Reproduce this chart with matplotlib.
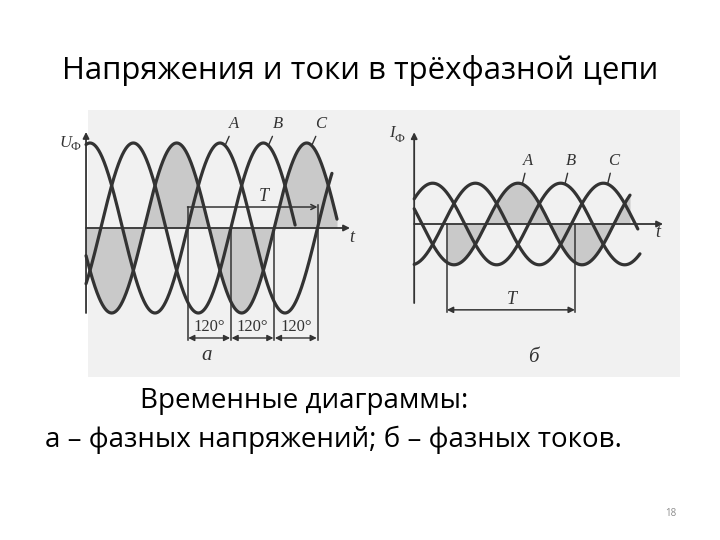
import numpy as np
import matplotlib
matplotlib.use("Agg")
from matplotlib import pyplot as plt
from matplotlib.patches import Rectangle

# slide text
title = "Напряжения и токи в трёхфазной цепи"
caption1 = "Временные диаграммы:"
caption2 = "а – фазных напряжений; б – фазных токов."
page_no = "18"

# three phases, angle in degrees (A crosses zero rising at 0)
phases = ["A", "B", "C"]
shift_deg = [0, 120, 240]

# panel a: phase voltages
u_amp = 1.0
u_start = -281
u_end = [400, 298, 414]
u_axis_end = 450
sector_edges = [0, 120, 240, 360]
sector_labels = ["120°", "120°", "120°"]

# panel b: phase currents
i_amp = 0.48
i_start = -202
i_end = [405, 433, 427]
i_axis_end = 498
T_b = [-110, 250]

W, H = 720, 540
fig = plt.figure(figsize=(7.2, 5.4), dpi=100)
fig.patch.set_facecolor("white")

ink = "#333333"
shade = "#c9c9c9"
serif = "Liberation Serif"
sans = "Open Sans"


def ax_at(px0, py0, px1, py1):
    ax = fig.add_axes([px0 / W, 1 - py1 / H, (px1 - px0) / W, (py1 - py0) / H])
    ax.set_axis_off()
    ax.patch.set_alpha(0)
    return ax


def arrow(ax, p0, p1, lw=1.3, style="-|>"):
    ax.annotate("", xy=p1, xytext=p0,
                arrowprops=dict(arrowstyle=style, lw=lw, color=ink,
                                mutation_scale=9, shrinkA=0, shrinkB=0))


# scanned picture background
bg = ax_at(0, 0, W, H)
bg.set_zorder(-5)
bg.set_xlim(0, W)
bg.set_ylim(H, 0)
bg.add_patch(Rectangle((88, 110), 680 - 88, 377 - 110, facecolor="#f1f1f1",
                       edgecolor="none"))

# ---------------- panel a ----------------
ax_a = ax_at(60, 110, 370, 377)
ax_a.set_xlim((60 - 187.5) * 360 / 130, (370 - 187.5) * 360 / 130)
ax_a.set_ylim((228 - 377) / 85, (228 - 110) / 85)

for name, sh, end in zip(phases, shift_deg, u_end):
    th = np.linspace(u_start, end, 600)
    y = u_amp * np.sin(np.radians(th - sh))
    if name == "C":
        ax_a.fill_between(th, y, 0, color=shade, lw=0, zorder=1)
    ax_a.plot(th, y, color=ink, lw=2.3, zorder=3, solid_capstyle="round")

arrow(ax_a, (u_start, 0), (u_axis_end, 0))
arrow(ax_a, (u_start, -1.0), (u_start, 1.13))
ax_a.text(u_axis_end + 6, -0.11, "t", family=serif, style="italic", fontsize=13,
          color=ink, ha="center", va="center")
ax_a.text(-337, 1.0, "U", family=serif, style="italic", fontsize=12, color=ink,
          ha="center", va="center")
ax_a.text(-311, 0.95, "Ф", family=serif, fontsize=9, color=ink, ha="center", va="center")

# T span and 120 degree sectors
t_y = 0.247
arrow(ax_a, (sector_edges[0], t_y), (sector_edges[-1], t_y), lw=1.1, style="->")
ax_a.text(210, 0.37, "T", family=serif, style="italic", fontsize=13, color=ink,
          ha="center", va="center")
dim_y = -1.294
tops = [t_y, 0, 0, 0.27]
for e, top in zip(sector_edges, tops):
    ax_a.plot([e, e], [top, -1.32], color=ink, lw=1.1, zorder=2)
for i, lab in enumerate(sector_labels):
    a, b = sector_edges[i], sector_edges[i + 1]
    arrow(ax_a, (a + 2, dim_y), (b - 2, dim_y), lw=1.0, style="<|-|>")
    ax_a.text((a + b) / 2, -1.17, lab, family=serif, fontsize=12, color=ink,
              ha="center", va="center")

for name, sh in zip(phases, shift_deg):
    peak = 90 + sh
    ax_a.annotate(name, xy=(peak + 14, np.sin(np.radians(90 - 14))),
                  xytext=(peak + 40, 1.22), family=serif, style="italic",
                  fontsize=12, color=ink, ha="center", va="center",
                  arrowprops=dict(arrowstyle="-", lw=1.0, color=ink,
                                  shrinkA=1, shrinkB=0))
ax_a.text(54, -1.50, "а", family=serif, style="italic", fontsize=15, color=ink,
          ha="center", va="center")

# ---------------- panel б ----------------
ax_b = ax_at(380, 110, 680, 377)
ax_b.set_xlim((380 - 486) * 360 / 128, (680 - 486) * 360 / 128)
ax_b.set_ylim((224 - 377) / 85, (224 - 110) / 85)

for name, sh, end in zip(phases, shift_deg, i_end):
    th = np.linspace(i_start, end, 600)
    y = i_amp * np.sin(np.radians(th - sh))
    if name == "A":
        m = th >= T_b[0]
        ax_b.fill_between(th[m], y[m], 0, color=shade, lw=0, zorder=1)
    ax_b.plot(th, y, color=ink, lw=2.3, zorder=3, solid_capstyle="round")

arrow(ax_b, (i_start, 0), (i_axis_end, 0))
arrow(ax_b, (i_start, -0.93), (i_start, 1.08))
ax_b.text(i_axis_end - 14, -0.1, "t", family=serif, style="italic", fontsize=13,
          color=ink, ha="center", va="center")
ax_b.text(-266, 1.07, "I", family=serif, style="italic", fontsize=12, color=ink,
          ha="center", va="center")
ax_b.text(-244, 1.0, "Ф", family=serif, fontsize=9, color=ink, ha="center", va="center")

for e in T_b:
    ax_b.plot([e, e], [0, -1.035], color=ink, lw=1.1, zorder=2)
arrow(ax_b, (T_b[0], -1.01), (T_b[1], -1.01), lw=1.1, style="<|-|>")
ax_b.text(sum(T_b) / 2 + 4, -0.89, "T", family=serif, style="italic", fontsize=13,
          color=ink, ha="center", va="center")

for name, sh in zip(phases, shift_deg):
    peak = 90 + sh
    ax_b.annotate(name, xy=(peak + 12, i_amp * np.sin(np.radians(90 - 12))),
                  xytext=(peak + 28, 0.74), family=serif, style="italic",
                  fontsize=12, color=ink, ha="center", va="center",
                  arrowprops=dict(arrowstyle="-", lw=1.0, color=ink,
                                  shrinkA=1, shrinkB=0))
ax_b.text(132, -1.565, "б", family=serif, style="italic", fontsize=15, color=ink,
          ha="center", va="center")

# ---------------- slide text ----------------
fig.text(360 / W, 1 - 70 / H, title, family=sans, fontsize=22.4, color="black",
         ha="center", va="center")
fig.text(140 / W, 1 - 401 / H, caption1, family=sans, fontsize=20, color="black",
         ha="left", va="center")
fig.text(45 / W, 1 - 440 / H, caption2, family=sans, fontsize=20, color="black",
         ha="left", va="center")
fig.text(671 / W, 1 - 513 / H, page_no, family=sans, fontsize=7, color="#8c8c8c",
         ha="center", va="center")

fig.savefig("out.png", dpi=100)
